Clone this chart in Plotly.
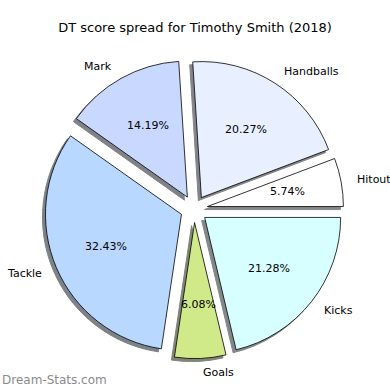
import math
import plotly.graph_objects as go

# Data (counterclockwise from 3 o'clock, as in the reference)
categories = ["Hitout", "Handballs", "Mark", "Tackle", "Goals", "Kicks"]
dt_points = [17, 60, 42, 96, 18, 63]
slice_colors = ["#ffffff", "#e8f0ff", "#c8d8ff", "#b8d8ff", "#d0ea8a", "#d8ffff"]
title_text = "DT score spread for Timothy Smith (2018)"
watermark = "Dream-Stats.com"

W = H = 390
PULL = 0.1
CX, CY, R = 194.0, 209.0, 136.0
half = R * (1 + PULL)
dom_x = [(CX - half) / W, (CX + half) / W]
dom_y = [1 - (CY + half) / H, 1 - (CY - half) / H]

total = sum(dt_points)
# shift so the first slice starts at 3 o'clock and runs counterclockwise
ROT = 90 - 360 * dt_points[0] / total

def shadow_color(hexc):
    r, g, b = (int(hexc[i:i + 2], 16) for i in (1, 3, 5))
    f = lambda c: int(round(255 * (0.5 * 0.3 * c / 255 + 0.5) - 30))
    return f"rgb({f(r)},{f(g)},{f(b)})"

shadow_colors = [shadow_color(c) for c in slice_colors]
off = 3.0

fig = go.Figure()
fig.add_trace(go.Pie(
    labels=categories, values=dt_points, sort=False,
    direction="counterclockwise", rotation=ROT, pull=[PULL] * len(categories),
    marker=dict(colors=shadow_colors, line=dict(color=shadow_colors, width=1)),
    textinfo="none", hoverinfo="skip", showlegend=False,
    domain=dict(x=[dom_x[0] - off / W, dom_x[1] - off / W],
                y=[dom_y[0] - off / H, dom_y[1] - off / H]),
))
fig.add_trace(go.Pie(
    labels=categories, values=dt_points, sort=False,
    direction="counterclockwise", rotation=ROT, pull=[PULL] * len(categories),
    marker=dict(colors=slice_colors, line=dict(color="#000000", width=0.8)),
    textinfo="none", showlegend=False,
    domain=dict(x=dom_x, y=dom_y),
))

cum = 0.0
annotations = []
font = dict(family="DejaVu Sans", size=11, color="#000000")
for cat, v in zip(categories, dt_points):
    mid = (cum + v / 2) / total * 2 * math.pi
    cum += v
    c, s = math.cos(mid), math.sin(mid)
    lx = CX + (PULL + 1.1) * R * c
    ly = CY - (PULL + 1.1) * R * s
    annotations.append(dict(
        x=lx / W, y=1 - ly / H, xref="paper", yref="paper", text=cat,
        showarrow=False, xanchor="left" if c > 0 else "right", yanchor="middle",
        font=font))
    px = CX + (PULL + 0.6) * R * c
    py = CY - (PULL + 0.6) * R * s
    annotations.append(dict(
        x=px / W, y=1 - py / H, xref="paper", yref="paper",
        text=f"{v / total * 100:.2f}%", showarrow=False,
        xanchor="center", yanchor="middle", font=font))

annotations.append(dict(
    x=0, y=1 - 380 / H, xref="paper", yref="paper", text=watermark,
    showarrow=False, xanchor="left", yanchor="middle",
    font=dict(family="DejaVu Sans", size=12, color="#8a8a8a")))

fig.update_layout(
    width=W, height=H, margin=dict(l=0, r=0, t=0, b=0),
    paper_bgcolor="white", plot_bgcolor="white",
    title=dict(text=title_text, x=0.5, xanchor="center", y=1 - 27 / H,
               yanchor="middle", font=dict(family="DejaVu Sans", size=13, color="#000000")),
    annotations=annotations,
)

fig.write_html("out.html", config={"displayModeBar": False},
               post_script="document.body.style.margin='0';document.body.style.overflow='hidden';")
